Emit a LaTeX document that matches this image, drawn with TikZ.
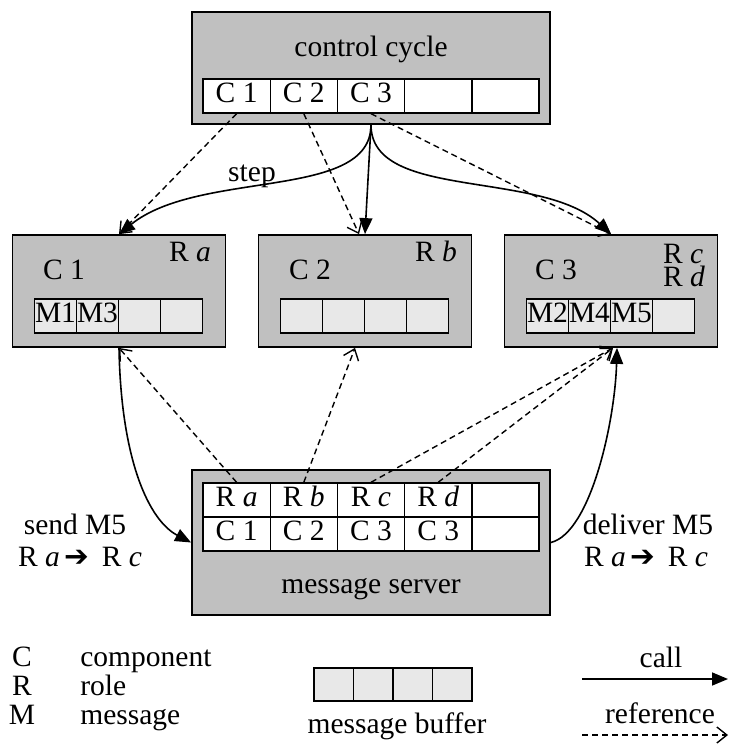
\documentclass[tikz,border=0pt]{standalone}
\usepackage{fontspec}
\setmainfont{Liberation Serif}
\newfontfamily\arrowfont{DejaVu Sans}
\usepackage{tikz}
\usetikzlibrary{arrows.meta,positioning}
\definecolor{boxgray}{HTML}{C0C0C0}
\definecolor{bufgray}{HTML}{E8E8E8}

\begin{document}
\begin{tikzpicture}[x=0.5pt,y=-0.5pt,node distance=123pt,font=\fontsize{14.75}{16}\selectfont,
  call/.style={line width=0.8pt,-{Triangle[length=8pt,width=6.5pt]}},
  ref/.style={line width=0.7pt,dash pattern=on 3pt off 2pt,-{Straight Barb[length=5pt,width=8pt]}}]
  \tikzstyle{box}=[draw,line width=0.9pt,fill=boxgray,inner sep=0pt]
  \tikzstyle{comp}=[box,minimum width=106.5pt,minimum height=56pt]
  \tikzstyle{cell}=[draw,line width=0.7pt,fill=white,inner sep=0pt,text height=0.66em,text depth=0pt,minimum width=33.6pt,minimum height=17pt]
  \tikzstyle{buf}=[draw,line width=0.7pt,fill=bufgray,inner sep=0pt,text height=0.66em,text depth=0pt,minimum width=21pt,minimum height=17pt]
  \tikzstyle{txt}=[inner sep=0pt,text height=0.66em,text depth=0pt]
  \useasboundingbox (0,0) rectangle (729,744);

  \node[box,minimum width=179pt,minimum height=56pt] (cc) at (371,68) {};
  \node[txt] (cctitle) at (371,50) {control cycle};
  \foreach \t [count=\i] in {C 1,C 2,C 3,{},{}}
    \node[cell] (cc\i) at ({203+67.2*(\i-0.5)},96) {\t};

  \node[comp] (C1) at (119,291) {};
  \node[comp] (C2) [right of=C1] {};
  \node[comp] (C3) [right of=C2] {};
  \node[txt] (C1name) at (64,273) {C 1};
  \node[txt] (C1role) at (190,255) {R \textit{a}};
  \node[txt] (C2name) at (310,273) {C 2};
  \node[txt] (C2role) at (436,255) {R \textit{b}};
  \node[txt] (C3name) at (556,273) {C 3};
  \node[inner sep=0pt,align=left,font=\fontsize{14.75}{11.5}\selectfont] (C3roles) at (684,265) {R \textit{c}\\R \textit{d}};
  \foreach \m [count=\i] in {M1,M3,{},{}}
    \node[buf] (bufA\i) at ({34.5+42*(\i-0.5)},316) {\m};
  \foreach \m [count=\i] in {{},{},{},{}}
    \node[buf] (bufB\i) at ({280.5+42*(\i-0.5)},316) {\m};
  \foreach \m [count=\i] in {M2,M4,M5,{}}
    \node[buf] (bufC\i) at ({526.5+42*(\i-0.5)},316) {\m};

  \node[box,minimum width=179pt,minimum height=72.5pt] (ms) at (371,542.5) {};
  \node[txt] (mstitle) at (371,587) {message server};
  \foreach \r/\c [count=\i] in {R \textit{a}/C 1,R \textit{b}/C 2,R \textit{c}/C 3,R \textit{d}/C 3,{}/{}} {
    \node[cell] (r\i) at ({203+67.2*(\i-0.5)},500) {\r};
    \node[cell] (c\i) at ({203+67.2*(\i-0.5)},534) {\c};
  }

  \draw[call] (cc.south) .. controls +(0,76) and +(81,-65) .. (C1.north);
  \draw[call] (cc.south) -- (C2.north);
  \draw[call] (cc.south) .. controls +(0,76) and +(-71,-65) .. (C3.north);
  \node[txt] (steplbl) at (252,175) {step};
  \draw[ref] (cc1.south) -- (C1.north);
  \draw[ref] (cc2.south) -- ([xshift=-3pt]C2.north);
  \draw[ref] (cc3.south) -- (C3.north);

  \draw[call] (C1.south) .. controls +(2,113) and +(-42,-22) .. (ms.west);
  \draw[call] (ms.east) .. controls +(40,-10) and +(-2,73) .. ([xshift=3pt]C3.south);
  \draw[ref] (r1.north) -- (C1.south);
  \draw[ref] (r2.north) -- ([xshift=-5pt]C2.south);
  \draw[ref] (r3.north) -- ([xshift=1pt]C3.south);
  \draw[ref] (r4.north) -- ([xshift=1pt]C3.south);

  \node[txt] (sendlbl) at (75,528) {send M5};
  \node[txt] (sendroles) at (80,560) {R \textit{a}\,{\arrowfont ➔}\, R \textit{c}};
  \node[txt] (delivlbl) at (648,528) {deliver M5};
  \node[txt] (delivroles) at (646,560) {R \textit{a}\,{\arrowfont ➔}\, R \textit{c}};

  \node[txt] (keyC) at (22,660) {C};
  \node[txt,anchor=west] (keyCt) at (80,660) {component};
  \node[txt] (keyR) at (22,689) {R};
  \node[txt,anchor=west] (keyRt) at (80,689) {role};
  \node[txt] (keyM) at (22,718) {M};
  \node[txt,anchor=west] (keyMt) at (80,718) {message};
  \foreach \i in {1,...,4}
    \node[buf,minimum width=19.75pt,minimum height=16.5pt] (keybuf\i) at ({314+39.5*(\i-0.5)},684.5) {};
  \node[txt] (keybuflbl) at (397,727) {message buffer};
  \coordinate (callA) at (582,679);
  \coordinate (callB) at (728,679);
  \draw[call] (callA) -- (callB);
  \node[txt] (keycall) at (661,661) {call};
  \coordinate (refA) at (582,735);
  \coordinate (refB) at (728,735);
  \draw[ref] (refA) -- (refB);
  \node[txt] (keyref) at (660,717) {reference};
\end{tikzpicture}
\end{document}
